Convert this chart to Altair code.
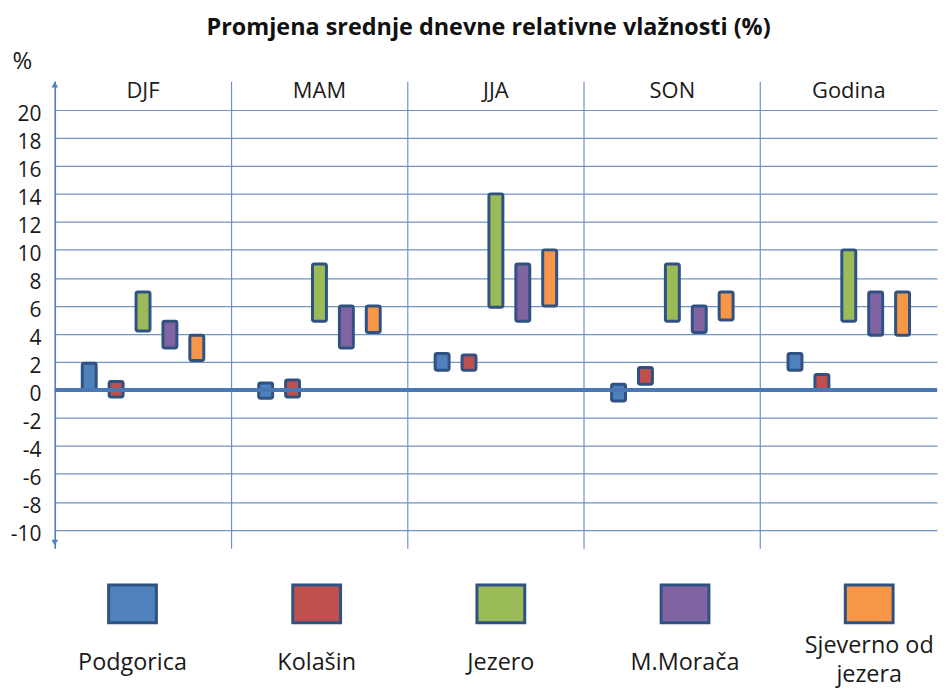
import altair as alt
import pandas as pd

# ---------------- data ----------------
seasons = ["DJF", "MAM", "JJA", "SON", "Godina"]
series = ["Podgorica", "Kolašin", "Jezero", "M.Morača", "Sjeverno od jezera"]
colors = ["#4f81bd", "#c0504d", "#9bbb59", "#8064a2", "#f79646"]

# lower / upper ends of each floating bar, per season, in series order
low_djf = [0.0, -0.5, 4.2, 3.0, 2.1]
high_djf = [1.9, 0.6, 7.0, 4.9, 3.9]
low_mam = [-0.6, -0.5, 4.9, 3.0, 4.1]
high_mam = [0.5, 0.7, 9.0, 6.0, 6.0]
low_jja = [1.4, 1.4, 5.9, 4.9, 6.0]
high_jja = [2.6, 2.5, 14.0, 9.0, 10.0]
low_son = [-0.8, 0.4, 4.9, 4.1, 5.0]
high_son = [0.4, 1.6, 9.0, 6.0, 7.0]
low_god = [1.4, 0.0, 4.9, 3.9, 3.9]
high_god = [2.6, 1.1, 10.0, 7.0, 7.0]

y_ticks = list(range(-10, 21, 2))
y_domain = [-11.3, 22.05]
arrow_y = [21.8, -10.9]
arrow_shape = ["triangle-up", "triangle-down"]

lows = [low_djf, low_mam, low_jja, low_son, low_god]
highs = [high_djf, high_mam, high_jja, high_son, high_god]

rows = []
for s, lo, hi in zip(seasons, lows, highs):
    for name, a, b in zip(series, lo, hi):
        rows.append({"season": s, "series": name, "low": a, "high": b})
df = pd.DataFrame(rows)

FONT = "Open Sans"
GRID = "#7393bf"
AXIS = "#4f81bd"
TXT = "#1a1a1a"

W = 886
H = 469

x_enc = alt.X(
    "season:N",
    sort=seasons,
    scale=alt.Scale(paddingInner=0, paddingOuter=0),
    axis=alt.Axis(
        orient="top", title=None, domain=False, ticks=False, tickSize=0,
        labelPadding=-9, labelBaseline="middle", labelFontSize=22,
        labelFont=FONT, labelColor=TXT, labelAngle=0,
        grid=True, bandPosition=0, gridColor=GRID, gridWidth=1.2,
    ),
)
y_scale = alt.Scale(domain=y_domain, nice=False, zero=False)
color_scale = alt.Scale(domain=series, range=colors)

bars = alt.Chart(df).mark_bar(
    width=14, stroke="#2f5282", strokeWidth=3, cornerRadius=2
).encode(
    x=x_enc,
    xOffset=alt.XOffset("series:N", sort=series,
                        scale=alt.Scale(paddingInner=0, paddingOuter=0.78)),
    y=alt.Y(
        "low:Q", scale=y_scale,
        axis=alt.Axis(
            values=y_ticks, tickCount=len(y_ticks) + 2,
            title="%", titleAngle=0, titleX=-43, titleY=-20,
            titleAlign="left", titleBaseline="middle", titleFontSize=24,
            titleFont=FONT, titleFontWeight="normal", titleColor=TXT,
            labelFontSize=21, labelFont=FONT, labelColor=TXT,
            labelExpr="'' + datum.value", labelOverlap=False,
            labelOffset=5, ticks=False, labelPadding=14,
            domainColor=AXIS, domainWidth=1.5,
            grid=True, gridColor=GRID, gridWidth=1.2,
        ),
    ),
    y2="high:Q",
    color=alt.Color("series:N", scale=color_scale, legend=None),
)

zero = alt.Chart(pd.DataFrame({"v": [0]})).mark_rule(
    color="#4a78b4", strokeWidth=4
).encode(y=alt.Y("v:Q", scale=y_scale))

arrows = alt.Chart(pd.DataFrame({"v": arrow_y, "shape": arrow_shape})).mark_point(
    filled=True, size=45, color=AXIS, opacity=1
).encode(
    x=alt.value(0),
    y=alt.Y("v:Q", scale=y_scale),
    shape=alt.Shape("shape:N", scale=None, legend=None),
)

top = alt.layer(bars, zero, arrows).properties(width=W, height=H)

# ---------------- legend panel ----------------
leg_df = pd.DataFrame({
    "series": series,
    "label": [s.replace("Sjeverno od ", "Sjeverno od\n") for s in series],
    "lines": [s.count(" ") >= 2 for s in series],
})
leg_x = alt.X("series:N", sort=series,
              scale=alt.Scale(type="point", padding=0.395, align=0.534), axis=None)

squares = alt.Chart(leg_df).mark_point(
    shape="M-1,-0.79L1,-0.79L1,0.79L-1,0.79Z", size=2304, filled=True,
    stroke="#2f5282", strokeWidth=3, opacity=1, strokeOpacity=1,
).encode(
    x=leg_x,
    color=alt.Color("series:N", scale=color_scale, legend=None),
)
labels_one = alt.Chart(leg_df).transform_filter("!datum.lines").mark_text(
    font=FONT, fontSize=23.5, color=TXT, dy=59, baseline="middle",
).encode(x=leg_x, text="label:N")
labels_two = alt.Chart(leg_df).transform_filter("datum.lines").mark_text(
    font=FONT, fontSize=23.5, color=TXT, dy=42, baseline="middle",
    lineBreak="\n", lineHeight=29,
).encode(x=leg_x, text="label:N")

legend = alt.layer(squares, labels_one, labels_two).properties(width=W, height=60)

chart = alt.vconcat(top, legend, spacing=26, bounds="flush").properties(
    title=alt.TitleParams(
        "Promjena srednje dnevne relativne vlažnosti (%)",
        font=FONT, fontSize=23.5, fontWeight="bold", color="#111111",
        anchor="middle", offset=10, dx=14,
    ),
    padding={"left": 2, "right": 0, "top": 6, "bottom": 0},
).configure_view(strokeWidth=0, stroke="transparent")

chart.save("out.html", embed_options={"renderer": "svg", "actions": False})
